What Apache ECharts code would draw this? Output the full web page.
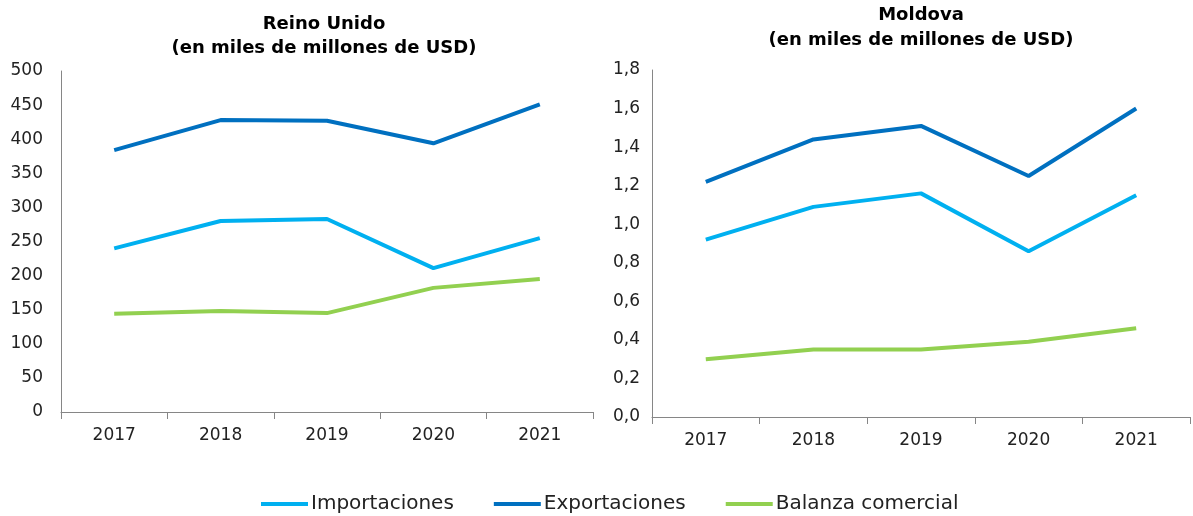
<!DOCTYPE html>
<html>
<head>
<meta charset="utf-8">
<script src="https://cdn.jsdelivr.net/npm/echarts@6/dist/echarts.min.js"></script>
<style>
  html, body { margin: 0; padding: 0; background: #fff; }
  #main { width: 1193px; height: 516px; }
</style>
</head>
<body>
<div id="main"></div>
<script>
// categories
var years = ["2017", "2018", "2019", "2020", "2021"];
var seriesNames = ["Importaciones", "Exportaciones", "Balanza comercial"];
var seriesColors = ["#00B0F0", "#0070C0", "#92D050"];

// Reino Unido (miles de millones de USD)
var ukImport = [240, 280, 283, 211, 255];
var ukExport = [384, 428, 427, 394, 451];
var ukBalance = [144, 148, 145, 182, 195];

// Moldova (miles de millones de USD)
var mdImport = [0.92, 1.09, 1.16, 0.86, 1.15];
var mdExport = [1.22, 1.44, 1.51, 1.25, 1.60];
var mdBalance = [0.30, 0.35, 0.35, 0.39, 0.46];

var fontFam = "DejaVu Sans, Verdana, sans-serif";
var axisColor = "#868686";

function xAxisFor(gridIndex) {
  return {
    type: "category",
    gridIndex: gridIndex,
    data: years,
    boundaryGap: true,
    axisLine: { lineStyle: { color: axisColor, width: 1 } },
    axisTick: { show: true, length: 7, lineStyle: { color: axisColor } },
    axisLabel: { color: "#222", fontSize: 17, fontFamily: fontFam, margin: 15 },
    splitLine: { show: false }
  };
}

function lineSeries(name, color, data, idx) {
  return {
    name: name,
    type: "line",
    xAxisIndex: idx,
    yAxisIndex: idx,
    data: data,
    symbol: "none",
    lineStyle: { color: color, width: 4 },
    itemStyle: { color: color }
  };
}

var chart = echarts.init(document.getElementById("main"));
chart.setOption({
  animation: false,
  title: [
    {
      text: "Reino Unido\n(en miles de millones de USD)",
      left: 319, top: 7, textAlign: "center",
      textStyle: { fontFamily: fontFam, fontSize: 18, fontWeight: "bold", color: "#000", lineHeight: 24 }
    },
    {
      text: "Moldova\n(en miles de millones de USD)",
      left: 916, top: -2, textAlign: "center",
      textStyle: { fontFamily: fontFam, fontSize: 18, fontWeight: "bold", color: "#000", lineHeight: 25 }
    }
  ],
  legend: {
    data: seriesNames,
    top: 489,
    left: 256,
    icon: "rect",
    itemWidth: 47,
    itemHeight: 4,
    itemGap: 40,
    textStyle: { fontFamily: fontFam, fontSize: 20, color: "#222", padding: [0, 0, 0, -2] }
  },
  grid: [
    { left: 61, right: 600, top: 71, bottom: 104 },
    { left: 652, right: 3, top: 70, bottom: 99 }
  ],
  xAxis: [xAxisFor(0), xAxisFor(1)],
  yAxis: [
    {
      type: "value", gridIndex: 0, min: 0, max: 500, interval: 50,
      axisLine: { show: true, lineStyle: { color: axisColor } },
      axisTick: { show: false },
      splitLine: { show: false },
      axisLabel: { color: "#222", fontSize: 17, fontFamily: fontFam, margin: 18 }
    },
    {
      type: "value", gridIndex: 1, min: 0, max: 1.8, interval: 0.2,
      axisLine: { show: true, lineStyle: { color: axisColor } },
      axisTick: { show: false },
      splitLine: { show: false },
      axisLabel: {
        color: "#222", fontSize: 17, fontFamily: fontFam, margin: 12,
        formatter: function (v) { return v.toFixed(1).replace(".", ","); }
      }
    }
  ],
  series: [
    lineSeries(seriesNames[0], seriesColors[0], ukImport, 0),
    lineSeries(seriesNames[1], seriesColors[1], ukExport, 0),
    lineSeries(seriesNames[2], seriesColors[2], ukBalance, 0),
    lineSeries(seriesNames[0], seriesColors[0], mdImport, 1),
    lineSeries(seriesNames[1], seriesColors[1], mdExport, 1),
    lineSeries(seriesNames[2], seriesColors[2], mdBalance, 1)
  ]
});
</script>
</body>
</html>
